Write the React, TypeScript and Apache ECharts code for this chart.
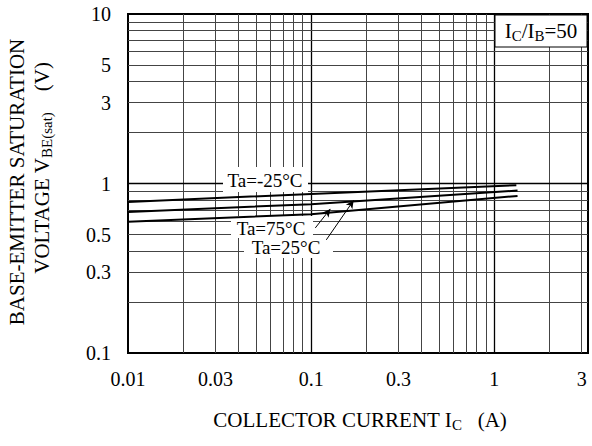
import React, { useEffect, useRef } from "react";
import * as echarts from "echarts";

// ---- data ----
const xTickLabels = [0.01, 0.03, 0.1, 0.3, 1, 3];
const yTickLabels = [0.1, 0.3, 0.5, 1, 3, 5, 10];
const xMinorGrid = [0.02, 0.03, 0.04, 0.05, 0.06, 0.07, 0.08, 0.09, 0.2, 0.3, 0.4, 0.5, 0.6, 0.7, 0.8, 0.9, 2, 3];
const xMajorGrid = [0.1, 1];
const yMinorGrid = [0.2, 0.3, 0.4, 0.5, 0.6, 0.7, 0.8, 0.9, 2, 3, 4, 5, 6, 7, 8, 9];
const yMajorGrid = [1];

const curveNames = ["Ta=-25°C", "Ta=25°C", "Ta=75°C"];
const curveM25: [number, number][] = [[0.01, 0.779], [0.1, 0.868], [1.32, 0.977]];
const curve25: [number, number][] = [[0.01, 0.68], [0.1, 0.755], [1.34, 0.908]];
const curve75: [number, number][] = [[0.01, 0.594], [0.1, 0.659], [1.34, 0.845]];

// arrows from labels to curves: [from, to]
const arrow75: [number, number][] = [[0.1054, 0.547], [0.1273, 0.708]];
const arrow25: [number, number][] = [[0.121, 0.465], [0.1706, 0.795]];

const X_MIN = 0.01;
const X_MAX = 3.25;
const Y_MIN = 0.1;
const Y_MAX = 10;

export default function App() {
  const ref = useRef<HTMLDivElement>(null);
  useEffect(() => {
    const chart = echarts.init(ref.current!, null, { renderer: "svg" });
    const font = '"Liberation Serif", "Times New Roman", Times, serif';
    const minorStyle = { color: "#444", width: 1, type: "solid" as const };
    const majorStyle = { color: "#000", width: 1.3, type: "solid" as const };

    const gridLines = [
      ...xMinorGrid.map((v) => ({ xAxis: v, lineStyle: minorStyle })),
      ...xMajorGrid.map((v) => ({ xAxis: v, lineStyle: majorStyle })),
      ...yMinorGrid.map((v) => ({ yAxis: v, lineStyle: minorStyle })),
      ...yMajorGrid.map((v) => ({ yAxis: v, lineStyle: majorStyle })),
    ];

    const curveSeries = (name: string, data: [number, number][]) => ({
      name,
      type: "line",
      data,
      showSymbol: false,
      symbol: "none",
      z: 5,
      lineStyle: { color: "#000", width: 2 },
      silent: true,
    });

    const arrowLine = (a: [number, number][]) => [
      { coord: a[0], symbol: "none" },
      { coord: a[1], symbol: "arrow" },
    ];

    const whiteBox = (x: number, y: number, w: number, h: number) => ({
      type: "rect",
      z: 3,
      shape: { x, y, width: w, height: h },
      style: { fill: "#fff", lineWidth: 0 },
    });

    const label = (text: string, x: number, y: number) => ({
      type: "text",
      z: 4,
      x,
      y,
      style: {
        text,
        font: `19px ${font}`,
        fill: "#000",
        align: "center",
        verticalAlign: "middle",
      },
    });

    const option: any = {
      animation: false,
      grid: {
        left: 128,
        top: 14,
        width: 460,
        height: 339,
        show: true,
        borderColor: "#000",
        borderWidth: 2,
        backgroundColor: "transparent",
      },
      xAxis: {
        type: "log",
        logBase: 10,
        min: X_MIN,
        max: X_MAX,
        axisLine: { show: false },
        axisTick: { show: false },
        splitLine: { show: false },
        minorSplitLine: { show: false },
        axisLabel: {
          customValues: xTickLabels,
          formatter: (v: number) => String(+v.toPrecision(6)),
          fontFamily: font,
          fontSize: 20,
          color: "#000",
          margin: 16,
          showMinLabel: true,
          showMaxLabel: true,
        },
      },
      yAxis: {
        type: "log",
        logBase: 10,
        min: Y_MIN,
        max: Y_MAX,
        axisLine: { show: false },
        axisTick: { show: false },
        splitLine: { show: false },
        axisLabel: {
          customValues: yTickLabels,
          formatter: (v: number) => String(+v.toPrecision(6)),
          fontFamily: font,
          fontSize: 20,
          color: "#000",
          margin: 17,
          showMinLabel: true,
          showMaxLabel: true,
        },
      },
      series: [
        {
          name: "grid",
          type: "line",
          data: [],
          z: 1,
          silent: true,
          markLine: {
            z: 1,
            silent: true,
            symbol: "none",
            label: { show: false },
            animation: false,
            data: gridLines,
          },
        },
        curveSeries(curveNames[0], curveM25),
        curveSeries(curveNames[1], curve25),
        curveSeries(curveNames[2], curve75),
        {
          name: "arrows",
          type: "line",
          data: [],
          z: 6,
          silent: true,
          markLine: {
            z: 6,
            silent: true,
            symbol: ["none", "arrow"],
            symbolSize: [6, 8],
            label: { show: false },
            lineStyle: { color: "#000", width: 1, type: "solid" },
            data: [arrowLine(arrow75), arrowLine(arrow25)],
          },
        },
      ],
      graphic: [
        {
          type: "rect",
          z: 3,
          shape: { x: 495, y: 15, width: 92, height: 32 },
          style: { fill: "#fff", stroke: "#000", lineWidth: 1 },
        },
        {
          type: "text",
          z: 4,
          x: 541,
          y: 31,
          style: {
            text: "{m|I}{s|C}{m|/I}{s|B}{m|=50}",
            align: "center",
            verticalAlign: "middle",
            rich: {
              m: { fontFamily: font, fontSize: 21, fill: "#000", color: "#000" },
              s: { fontFamily: font, fontSize: 15, fill: "#000", color: "#000", padding: [10, 0, 0, 0] },
            },
          },
        },
        whiteBox(223, 167, 85, 25),
        whiteBox(231, 216, 82, 22),
        whiteBox(244, 236, 89, 22),
        label(curveNames[0], 265, 180),
        label(curveNames[2], 271, 228),
        label(curveNames[1], 286, 247),
        {
          type: "text",
          z: 4,
          x: 17,
          y: 182,
          rotation: Math.PI / 2,
          style: {
            text: "BASE-EMITTER SATURATION",
            font: `21px ${font}`,
            fill: "#000",
            align: "center",
            verticalAlign: "middle",
          },
        },
        {
          type: "text",
          z: 4,
          x: 42,
          y: 168,
          rotation: Math.PI / 2,
          style: {
            text: "{m|VOLTAGE V}{s|BE(sat)}{m|    (V)}",
            align: "center",
            verticalAlign: "middle",
            rich: {
              m: { fontFamily: font, fontSize: 21, fill: "#000", color: "#000" },
              s: { fontFamily: font, fontSize: 15, fill: "#000", color: "#000", padding: [10, 0, 0, 0] },
            },
          },
        },
        {
          type: "text",
          z: 4,
          x: 360,
          y: 420,
          style: {
            text: "{m|COLLECTOR CURRENT I}{s|C}{m|   (A)}",
            align: "center",
            verticalAlign: "middle",
            rich: {
              m: { fontFamily: font, fontSize: 21, fill: "#000", color: "#000" },
              s: { fontFamily: font, fontSize: 15, fill: "#000", color: "#000", padding: [10, 0, 0, 0] },
            },
          },
        },
      ],
    };
    chart.setOption(option);
    return () => chart.dispose();
  }, []);
  return (
    <div
      ref={ref}
      style={{ position: "fixed", left: 0, top: 0, width: 592, height: 446, background: "#fff" }}
    />
  );
}
